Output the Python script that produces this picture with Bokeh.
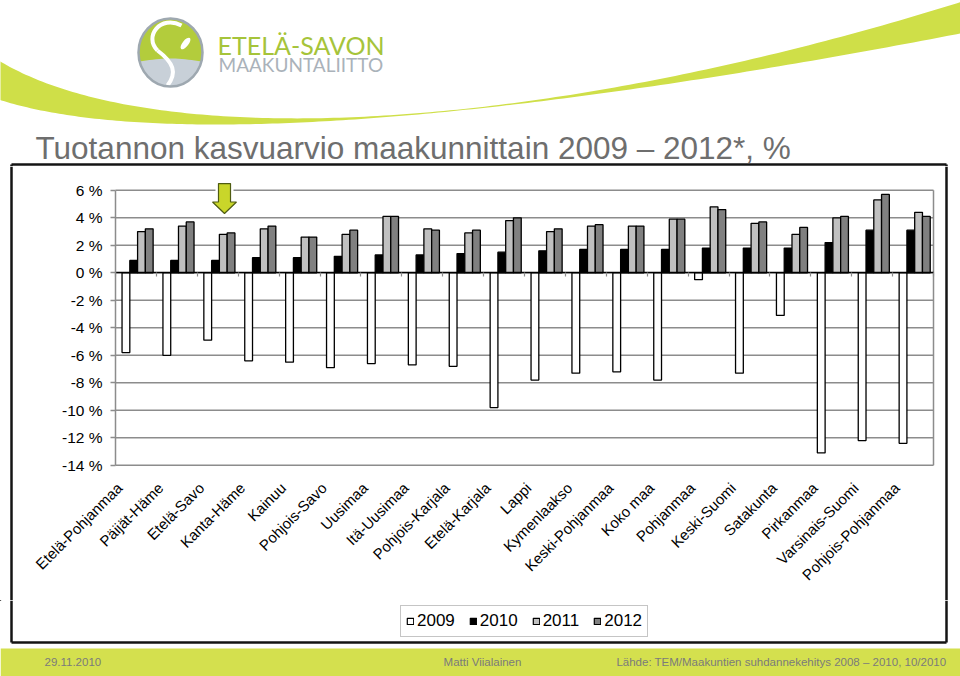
import math
import numpy as np
from bokeh.plotting import figure
from bokeh.models import (Range1d, LinearAxis, FixedTicker, ColumnDataSource,
                          Legend, LegendItem, CustomJSTickFormatter)
from bokeh.layouts import column, row
from bokeh.core.properties import value
from bokeh.embed import file_html
from bokeh.resources import INLINE

# ---------------- data ----------------
categories = ["Etelä-Pohjanmaa", "Päijät-Häme", "Etelä-Savo", "Kanta-Häme", "Kainuu",
              "Pohjois-Savo", "Uusimaa", "Itä-Uusimaa", "Pohjois-Karjala", "Etelä-Karjala",
              "Lappi", "Kymenlaakso", "Keski-Pohjanmaa", "Koko maa", "Pohjanmaa",
              "Keski-Suomi", "Satakunta", "Pirkanmaa", "Varsinais-Suomi", "Pohjois-Pohjanmaa"]
series_names = ["2009", "2010", "2011", "2012"]
v2009 = [-5.8, -6.0, -4.9, -6.4, -6.5, -6.9, -6.6, -6.7, -6.8, -9.8,
         -7.8, -7.3, -7.2, -7.8, -0.5, -7.3, -3.1, -13.1, -12.2, -12.4]
v2010 = [0.9, 0.9, 0.9, 1.1, 1.1, 1.2, 1.3, 1.3, 1.4, 1.5,
         1.6, 1.7, 1.7, 1.7, 1.8, 1.8, 1.8, 2.2, 3.1, 3.1]
v2011 = [3.0, 3.4, 2.8, 3.2, 2.6, 2.8, 4.1, 3.2, 2.9, 3.8,
         3.0, 3.4, 3.4, 3.9, 4.8, 3.6, 2.8, 4.0, 5.3, 4.4]
v2012 = [3.2, 3.7, 2.9, 3.4, 2.6, 3.1, 4.1, 3.1, 3.1, 4.0,
         3.2, 3.5, 3.4, 3.9, 4.6, 3.7, 3.3, 4.1, 5.7, 4.1]
y_ticks = [-14, -12, -10, -8, -6, -4, -2, 0, 2, 4, 6]
y_tick_labels = ["-14 %", "-12 %", "-10 %", "-8 %", "-6 %", "-4 %", "-2 %", "0 %", "2 %", "4 %", "6 %"]
highlight = "Etelä-Savo"

title_text = "Tuotannon kasvuarvio maakunnittain 2009 – 2012*, %"
logo_main = "ETELÄ-SAVON"
logo_sub = "MAAKUNTALIITTO"
footer_left = "29.11.2010"
footer_mid = "Matti Viialainen"
footer_right = "Lähde: TEM/Maakuntien suhdannekehitys  2008 – 2010, 10/2010"

# ---------------- styles ----------------
FONT = "Liberation Sans"
SWOOSH = "#cfdf48"
FOOT = "#d4e04e"
GRID = "#8c8c8c"
BOX = "#141414"
BOX_W = 2.5
fills = ["white", "black", "#c0c0c0", "#808080"]
W = 960


def deco_fig(w, h, x0, x1, y0, y1):
    f = figure(width=w, height=h, x_range=Range1d(x0, x1), y_range=Range1d(y1, y0),
               min_border=0, toolbar_location=None, output_backend="svg",
               x_axis_location=None, y_axis_location=None, outline_line_color=None)
    f.grid.visible = False
    return f


def bez(p0, p1, p2, p3, t):
    p0, p1, p2, p3 = map(np.array, (p0, p1, p2, p3))
    t = t[:, None]
    pts = ((1 - t) ** 3) * p0 + 3 * ((1 - t) ** 2) * t * p1 + 3 * (1 - t) * t ** 2 * p2 + t ** 3 * p3
    return pts[:, 0], pts[:, 1]


# ---------------- header (y 0..166) ----------------
hdr = deco_fig(W, 166, 0, W, 0, 166)
tt = np.linspace(0, 1, 160)
ux, uy = bez((-5, 58), (140, 150), (520, 140), (965, 0), tt)
lx, ly = bez((-5, 98), (150, 150), (500, 122), (965, 32), tt)
hdr.patch(np.concatenate([ux, lx[::-1]]), np.concatenate([uy, ly[::-1]]),
          fill_color=SWOOSH, line_color=None)

# logo
cx, cy, a, b = 170, 52, 32, 34
hdr.ellipse(x=[cx], y=[cy], width=[2 * a], height=[2 * b], fill_color="#b3cc3c", line_color=None)
t0 = math.asin(9 / b)
th = np.linspace(t0, math.pi - t0, 60)
gx = list(cx + a * np.cos(th))
gy = list(cy + b * np.sin(th))
wx = np.linspace(gx[-1], gx[0], 20)
wy = cy + 9 - 3 * np.sin((wx - wx[0]) / (wx[-1] - wx[0]) * math.pi)
hdr.patch(gx + list(wx), gy + list(wy), fill_color="#c8d0d8", line_color=None)
hdr.bezier(x0=[181, 157], y0=[25, 50], x1=[157, 167], y1=[50, 85],
           cx0=[160, 173], cy0=[14, 62], cx1=[143, 177], cy1=[36, 72],
           line_color="white", line_width=4)
hdr.ellipse(x=[185], y=[43], width=[14], height=[6], angle=[0.9], fill_color="white", line_color=None)
hdr.ellipse(x=[cx], y=[cy], width=[2 * a], height=[2 * b], fill_color=None,
            line_color="#9ea8b0", line_width=2.5)
hdr.text(x=[217], y=[44], text=[logo_main], text_font=value("Lato"), text_font_size="25px",
         text_color="#a6c43a", text_baseline="middle", text_align="left")
hdr.text(x=[218], y=[64], text=[logo_sub], text_font=value("Lato"), text_font_size="19px",
         text_color="#aab2ba", text_baseline="middle", text_align="left")

# title
hdr.text(x=[35], y=[147.5], text=[title_text], text_font=value(FONT), text_font_size="31.5px",
         text_color="#6e6e6e", text_baseline="middle", text_align="left")
# box top
hdr.segment(x0=[11, 11, 946], y0=[164, 164, 164], x1=[946, 11, 946], y1=[164, 166, 166],
            line_color=BOX, line_width=BOX_W)

# ---------------- chart band (page y 166..600, full width) ----------------
n = len(categories)
BAND_TOP, BAND_H = 166, 434
PX_CAT, PX_PCT = 40.9, 13.75            # pixels per category / per percent point
PLOT_L, ZERO_Y = 115, 272.3             # page x of plot-area left edge, page y of 0 %


def u(px):   # page x -> category axis units (category boundaries at i - 0.1)
    return -0.1 + (px - PLOT_L) / PX_CAT


def v(py):   # page y -> percent
    return (ZERO_Y - py) / PX_PCT


ch = figure(width=W, height=BAND_H, x_range=Range1d(u(0), u(W)),
            y_range=Range1d(v(BAND_TOP + BAND_H), v(BAND_TOP)),
            min_border=0, toolbar_location=None, output_backend="svg",
            x_axis_location=None, y_axis_location=None, outline_line_color=None)
ch.grid.visible = False

x_lo, x_hi = -0.1, n - 0.1            # plot-area extent in category units
# horizontal gridlines and right border of the plot area
ch.segment(x0=[x_lo] * len(y_ticks), x1=[x_hi] * len(y_ticks), y0=y_ticks, y1=y_ticks,
           line_color=GRID, line_width=1.5)
ch.segment(x0=[x_hi], x1=[x_hi], y0=[min(y_ticks)], y1=[max(y_ticks)], line_color=GRID, line_width=1.5)

idx = np.arange(n)
centers = idx + 0.44
bw = 0.19
for k, (name, vals) in enumerate(zip(series_names, [v2009, v2010, v2011, v2012])):
    src = ColumnDataSource(dict(x=centers + (k - 1.5) * bw, top=vals, cat=categories))
    ch.vbar(x="x", top="top", bottom=0, width=bw, source=src,
            fill_color=fills[k], line_color="black", line_width=1.3)

# highlight arrow
hi = categories.index(highlight)
ac = hi + 0.565
arrow_x = [ac - 0.147, ac + 0.147, ac + 0.147, ac + 0.293, ac, ac - 0.293, ac - 0.147]
arrow_y = [6.49, 6.49, 5.15, 5.15, 4.31, 5.15, 5.15]
ch.patch(arrow_x, arrow_y, fill_color="white", line_color="white", line_width=6)
ch.patch(arrow_x, arrow_y, fill_color="#c9d62a", line_color="#4f5c12", line_width=1.2)

# box side lines
ch.segment(x0=[u(11), u(946)], x1=[u(11), u(946)], y0=[v(BAND_TOP + BAND_H)] * 2, y1=[v(BAND_TOP)] * 2,
           line_color=BOX, line_width=BOX_W)

yax = LinearAxis(fixed_location=x_lo, ticker=FixedTicker(ticks=y_ticks),
                 major_label_overrides={t: l for t, l in zip(y_ticks, y_tick_labels)},
                 bounds=(min(y_ticks), max(y_ticks)), axis_line_color=GRID, axis_line_width=1.5,
                 major_tick_line_color=GRID, major_tick_line_width=1.5,
                 major_tick_out=5, major_tick_in=0, minor_tick_line_color=None,
                 major_label_standoff=8, major_label_text_font=FONT,
                 major_label_text_font_size="15.5px", major_label_text_color="black")
ch.add_layout(yax, "left")

lax = LinearAxis(fixed_location=min(y_ticks), ticker=FixedTicker(ticks=list(range(n))),
                 major_label_overrides={i: c for i, c in enumerate(categories)},
                 major_label_orientation=math.pi / 4, axis_line_color=None,
                 major_tick_line_color=None, major_tick_out=0, major_tick_in=0,
                 minor_tick_line_color=None, minor_tick_out=0, major_label_standoff=20,
                 major_label_text_font=FONT, major_label_text_font_size="15px",
                 major_label_text_color="black")
ch.add_layout(lax, "below")

zax = LinearAxis(fixed_location=0, ticker=FixedTicker(ticks=[i - 0.1 for i in range(n + 1)]),
                 bounds=(x_lo, x_hi),
                 formatter=CustomJSTickFormatter(code="return ''"),
                 axis_line_color="black", axis_line_width=1.5,
                 major_tick_line_color=GRID, major_tick_line_width=1.2,
                 major_tick_out=4, major_tick_in=0, minor_tick_line_color=None,
                 major_label_standoff=0)
ch.add_layout(zax, "below")

# ---------------- bottom: legend + footer (y 600..676) ----------------
bot = deco_fig(W, 76, 0, W, 600, 676)
bot.segment(x0=[11, 946, 11], y0=[600, 600, 642], x1=[11, 946, 946], y1=[642, 642, 642],
            line_color=BOX, line_width=BOX_W)
bot.quad(left=[0], right=[W], top=[648], bottom=[676], fill_color=FOOT, line_color=None)
proxies = [bot.vbar(x=[-100], top=[0], width=1, fill_color=c, line_color="black", line_width=1.2)
           for c in fills]
leg = Legend(items=[LegendItem(label=s, renderers=[r]) for s, r in zip(series_names, proxies)],
             orientation="horizontal", location=(400, 39), border_line_color=GRID,
             border_line_width=1.5, background_fill_color="white", background_fill_alpha=1,
             padding=5, spacing=14, margin=0, glyph_width=8, glyph_height=8, label_standoff=3,
             label_height=20, label_text_font=FONT, label_text_font_size="17px",
             label_text_color="black")
bot.add_layout(leg)
ftxt = dict(text_font=value(FONT), text_font_size="11.5px", text_color="#7b7b7b", text_baseline="middle")
bot.text(x=[44], y=[661], text=[footer_left], text_align="left", **ftxt)
bot.text(x=[482], y=[661], text=[footer_mid], text_align="center", **ftxt)
bot.text(x=[949], y=[661], text=[footer_right], text_align="right", **ftxt)

layout = column(hdr, row(ch), bot)
open("out.html", "w").write(file_html(layout, INLINE))
